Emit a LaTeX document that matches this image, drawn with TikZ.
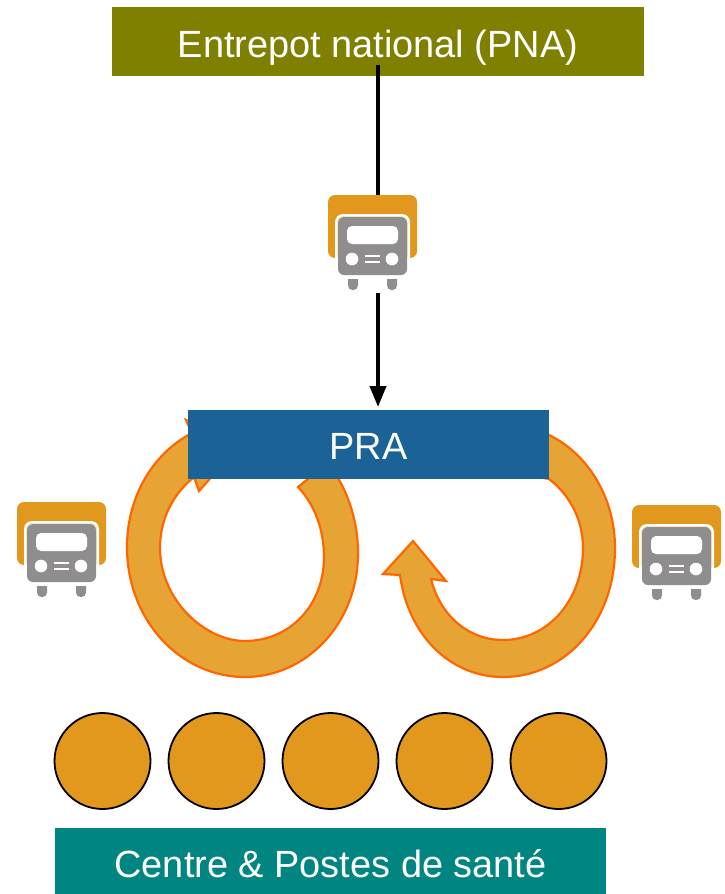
\documentclass[tikz,border=0pt]{standalone}
\usepackage{fontspec}
\setmainfont{Liberation Sans}
\usetikzlibrary{arrows.meta}
\definecolor{olivebox}{HTML}{808000}
\definecolor{bluebox}{HTML}{1B6396}
\definecolor{tealbox}{HTML}{008580}
\definecolor{ringfill}{HTML}{E6A435}
\definecolor{ringline}{HTML}{FF6600}
\definecolor{dotfill}{HTML}{E2981C}
\definecolor{truckgray}{HTML}{8F8D8E}
\definecolor{truckedge}{HTML}{F6E7C4}
\tikzset{
  x=1pt,y=-1pt,
  banner/.style={inner sep=0pt,text=white,text depth=0pt,font=\fontsize{37.9}{40}\selectfont},
  ring/.style={fill=ringfill,draw=ringline,line width=2.2pt,line join=miter},
  site/.style={circle,draw=black,fill=dotfill,line width=1.8pt,minimum size=96pt,inner sep=0pt},
  flow/.style={black,line width=4pt},
  truckslot/.style={inner sep=0pt,minimum width=89pt,minimum height=95pt},
  truck/.pic={
    \fill[dotfill,rounded corners=7pt] (0,0) rectangle (89,63);
    \fill[white,rounded corners=8pt] (7,19) rectangle (82,84);
    \fill[truckgray,rounded corners=4.5pt] (20,80) -- (20,95) -- (30,95) -- (30,80) -- cycle;
    \fill[truckgray,rounded corners=4.5pt] (59,80) -- (59,95) -- (69,95) -- (69,80) -- cycle;
    \fill[white] (18,80) rectangle (71,84);
    \draw[truckedge,line width=1.4pt,rounded corners=7pt] (9.5,62) -- (9.5,21.5) -- (79.5,21.5) -- (79.5,62);
    \fill[truckgray,rounded corners=6pt] (10,22) rectangle (79,80);
    \fill[white,rounded corners=5pt] (19,31) rectangle (70,49);
    \fill[white] (24,64) circle (6.3);
    \fill[white] (64,64) circle (6.3);
    \fill[white] (37,59.5) rectangle (52,61.5);
    \fill[white] (37,65.5) rectangle (52,67.5);
  }
}
\begin{document}
\begin{tikzpicture}
\useasboundingbox (0,0) rectangle (725,894);
\fill[white] (0,0) rectangle (725,894);

% left loop
\path[ring] (298,487) .. controls (315,505) and (324,530) .. (324,557)
  .. controls (324,605) and (290,641) .. (245,641)
  .. controls (205,641) and (160,600) .. (160,548)
  .. controls (160,520) and (172,495) .. (194,477)
  -- (199,491) -- (240,445) -- (186,420) -- (192,433)
  .. controls (150,455) and (127,500) .. (127,547)
  .. controls (127,620) and (180,677) .. (245,677)
  .. controls (305,677) and (358,625) .. (358,553)
  .. controls (358,525) and (350,495) .. (333,470) -- (319,470) -- cycle;

% right loop
\path[ring] (500,420) .. controls (525,420) and (540,428) .. (549,435)
  .. controls (590,455) and (615,500) .. (615,548)
  .. controls (615,622) and (565,677) .. (503,677)
  .. controls (450,677) and (408,635) .. (400,575)
  -- (383,574) -- (413,541) -- (446,581) -- (431,579)
  .. controls (440,615) and (468,640) .. (503,640)
  .. controls (548,640) and (583,600) .. (583,548)
  .. controls (583,520) and (570,495) .. (549,479)
  -- (500,470) -- cycle;

% boxes
\node[banner,fill=olivebox,minimum width=532pt,minimum height=69pt,text height=31pt] (pna) at (378,41.5) {Entrepot national (PNA)};
\node[banner,fill=bluebox,minimum width=361pt,minimum height=69pt,text height=29pt] (pra) at (368.5,444.5) {PRA};
\node[banner,fill=tealbox,minimum width=551pt,minimum height=66pt,text height=32pt] (sante) at (330.5,861) {Centre \& Postes de santé};

% sites
\foreach \n/\cx in {1/102.5,2/216.5,3/330.5,4/444.5,5/558.5}
  \node[site] (site\n) at (\cx,761) {};

% trucks
\node[truckslot] (truckTop) at (372.5,242.5) {};
\coordinate (flowStart) at (378,65);
\coordinate (flowEnd) at (378,407);
\coordinate (truckOut) at (378,293);
\draw[flow] (flowStart) -- (flowStart |- truckTop.north);
\draw[flow,-{Triangle[length=21pt,width=16pt]}] (truckOut) -- (flowEnd);
\pic at (328,195) {truck};
\pic at (17,502) {truck};
\pic at (632,505) {truck};
\end{tikzpicture}
\end{document}
